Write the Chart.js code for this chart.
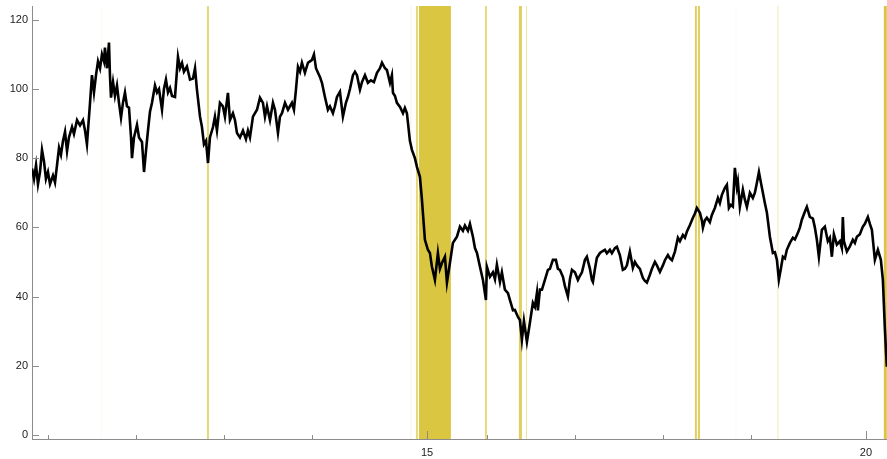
<!DOCTYPE html>
<html>
<head>
<meta charset="utf-8">
<script src="https://cdn.jsdelivr.net/npm/chart.js@4"></script>
<style>
  html, body { margin: 0; padding: 0; background: #fff; }
  #wrap { width: 887px; height: 459px; }
</style>
</head>
<body>
<div id="wrap"><canvas id="priceChart" width="887" height="459"></canvas></div>
<script>
// time in years (two-digit year + fraction) and the price at each sample
const t = [
  10.500, 10.523, 10.546, 10.568, 10.591, 10.614, 10.637, 10.659, 10.682, 10.705,
  10.739, 10.762, 10.785, 10.808, 10.830, 10.853, 10.876, 10.899, 10.921, 10.956,
  10.978, 11.013, 11.047, 11.081, 11.104, 11.126, 11.161, 11.183, 11.206, 11.229,
  11.252, 11.275, 11.297, 11.320, 11.331, 11.354, 11.377, 11.388, 11.400, 11.423,
  11.445, 11.468, 11.491, 11.514, 11.536, 11.559, 11.582, 11.605, 11.628, 11.639,
  11.662, 11.696, 11.719, 11.753, 11.776, 11.798, 11.821, 11.844, 11.867, 11.901,
  11.924, 11.947, 11.981, 12.003, 12.026, 12.049, 12.072, 12.095, 12.129, 12.163,
  12.186, 12.209, 12.231, 12.265, 12.300, 12.334, 12.357, 12.379, 12.414, 12.436,
  12.459, 12.482, 12.505, 12.527, 12.562, 12.584, 12.607, 12.641, 12.675, 12.698,
  12.732, 12.755, 12.789, 12.812, 12.835, 12.869, 12.903, 12.937, 12.960, 12.983,
  13.017, 13.063, 13.097, 13.131, 13.154, 13.177, 13.211, 13.245, 13.268, 13.302,
  13.325, 13.348, 13.382, 13.416, 13.461, 13.484, 13.507, 13.530, 13.553, 13.575,
  13.609, 13.644, 13.666, 13.689, 13.712, 13.735, 13.758, 13.780, 13.803, 13.837,
  13.871, 13.894, 13.928, 13.951, 13.974, 14.008, 14.042, 14.076, 14.099, 14.122,
  14.156, 14.179, 14.202, 14.236, 14.259, 14.293, 14.327, 14.361, 14.395, 14.430,
  14.464, 14.487, 14.521, 14.543, 14.578, 14.600, 14.612, 14.635, 14.657, 14.692,
  14.726, 14.748, 14.771, 14.783, 14.805, 14.828, 14.862, 14.885, 14.919, 14.942,
  14.976, 15.010, 15.033, 15.056, 15.090, 15.124, 15.147, 15.170, 15.204, 15.227,
  15.261, 15.295, 15.318, 15.341, 15.375, 15.409, 15.432, 15.466, 15.489, 15.523,
  15.546, 15.569, 15.603, 15.637, 15.671, 15.682, 15.717, 15.751, 15.774, 15.796,
  15.831, 15.853, 15.887, 15.922, 15.944, 15.979, 16.001, 16.036, 16.058, 16.081,
  16.104, 16.138, 16.172, 16.206, 16.229, 16.252, 16.263, 16.286, 16.309, 16.343,
  16.377, 16.400, 16.434, 16.468, 16.491, 16.514, 16.548, 16.571, 16.605, 16.628,
  16.651, 16.685, 16.719, 16.742, 16.765, 16.799, 16.821, 16.856, 16.878, 16.890,
  16.913, 16.935, 16.970, 16.992, 17.026, 17.049, 17.083, 17.106, 17.140, 17.163,
  17.197, 17.231, 17.254, 17.277, 17.311, 17.345, 17.368, 17.391, 17.425, 17.459,
  17.482, 17.505, 17.539, 17.562, 17.596, 17.619, 17.653, 17.687, 17.710, 17.744,
  17.767, 17.790, 17.824, 17.858, 17.881, 17.915, 17.938, 17.960, 17.995, 18.029,
  18.052, 18.074, 18.109, 18.131, 18.143, 18.165, 18.188, 18.222, 18.245, 18.279,
  18.314, 18.336, 18.359, 18.393, 18.416, 18.439, 18.461, 18.484, 18.507, 18.530,
  18.541, 18.564, 18.598, 18.621, 18.644, 18.678, 18.712, 18.735, 18.758, 18.781,
  18.803, 18.826, 18.849, 18.872, 18.906, 18.940, 18.963, 18.986, 19.008, 19.031,
  19.054, 19.077, 19.099, 19.134, 19.168, 19.191, 19.225, 19.248, 19.270, 19.304,
  19.327, 19.361, 19.396, 19.418, 19.441, 19.464, 19.498, 19.532, 19.566, 19.589,
  19.612, 19.635, 19.669, 19.703, 19.726, 19.737, 19.749, 19.783, 19.817, 19.851,
  19.874, 19.897, 19.931, 19.965, 19.988, 20.022, 20.045, 20.068, 20.102, 20.136,
  20.170, 20.193, 20.204, 20.215, 20.227, 20.238
];

const price = [
  77, 74, 78, 72.5, 76, 82.4, 79, 74, 76, 72.5,
  75, 73, 78, 83, 81, 85, 87.6, 82, 86, 89,
  87, 91, 89.5, 91, 88, 84, 96, 104, 99, 104,
  108, 106, 110, 108, 112, 106, 113.4, 104, 97.5, 102,
  98, 101, 96, 91.7, 96, 99, 95, 94.6, 86, 80,
  86, 89.6, 86, 84.7, 76, 82, 88, 93.4, 96, 101,
  99, 100, 94, 100, 102.7, 99, 100.3, 98, 97.7, 109.3,
  106, 107.5, 105, 106.5, 102.7, 103, 106, 99.8, 92, 89,
  84, 85, 78.6, 86, 89, 92, 88, 96, 95, 92,
  98.9, 91, 93, 91, 87.3, 86, 88, 85.5, 88, 86,
  92, 94, 97.5, 96, 92, 95, 91, 96, 94, 87.3,
  92, 93, 96, 94, 96, 94, 99.8, 106.4, 105, 107.6,
  104.7, 107.6, 108, 108.4, 110, 106, 104.7, 103.5, 101.8, 97.7,
  94, 95, 93, 95, 97.7, 99.2, 92, 96, 97.7, 100,
  104, 105, 104, 99.8, 102, 104, 101.8, 102.5, 102, 104.7,
  106, 107.6, 106, 105.5, 101.8, 104, 98.9, 98, 96, 94.8,
  93, 94.5, 93, 90.2, 85, 82.4, 80, 77.5, 74.6, 68,
  56.4, 53.5, 52.6, 48.6, 44.8, 52.6, 48, 49.7, 51.5, 44,
  49.7, 55.5, 56.4, 57.3, 60.2, 59, 60.5, 59, 61, 57.3,
  54, 52.6, 48.6, 44.8, 39, 48.6, 45.7, 47, 45, 49.2,
  44.2, 47, 42, 41, 39, 36, 36.1, 34.1, 33.2, 27.5,
  33, 26.9, 32.4, 38.2, 37, 41, 36, 42, 42, 44.8,
  47.7, 48, 50.6, 50.6, 48, 47.7, 45.7, 43, 40, 45,
  47.7, 47, 44.8, 46, 47, 50.6, 51.5, 48, 44.8, 44.2,
  48, 51.2, 52.6, 53, 53.5, 52.5, 53.5, 52.5, 54, 54.4,
  52, 47.7, 48, 49, 53, 48.3, 50, 49, 48, 45.4,
  44.5, 44, 46.3, 48, 50, 49, 47.1, 49, 50.5, 52,
  51, 50.5, 53, 57, 56, 57.8, 57, 58.7, 60.7, 62.8,
  64, 65.6, 64.2, 62, 59.9, 62, 62.8, 61.5, 63.6, 65.6,
  68.5, 67, 69.4, 71.4, 72.3, 65.6, 66.5, 66, 77.2, 71.7,
  73.2, 65.9, 70.9, 68, 65.9, 70, 68.5, 70, 72.9, 76,
  73, 70, 67, 64.2, 57.3, 52.6, 52.8, 50.6, 44.8, 48,
  51.5, 51, 53.5, 55.5, 57, 56.5, 58.4, 60, 62.2, 64.5,
  65.9, 63, 62.5, 60, 56.4, 51.5, 59.3, 60.2, 56, 57,
  51.5, 58, 55, 56, 54, 63, 56, 53, 54.5, 56.4,
  55.5, 57.3, 58, 60.2, 61, 63, 61, 59.3, 50.6, 53.5,
  50.6, 44.8, 38, 31.2, 25, 19.7
];

// shaded periods: start, end (years) and how strongly each is marked
const bandStart = [11.286, 12.493, 14.811, 14.874, 14.908, 15.660, 16.047, 16.127, 18.052, 18.086, 18.513, 18.986, 20.204];
const bandEnd   = [11.297, 12.516, 14.822, 14.896, 15.272, 15.682, 16.081, 16.138, 18.074, 18.109, 18.524, 19.008, 20.238];
const bandWeight = [0.08, 0.7, 0.2, 0.7, 1, 0.7, 0.85, 0.5, 0.85, 0.85, 0.08, 0.2, 1];

const yTicks = [0, 20, 40, 60, 80, 100, 120];
const xMajor = [15, 20];
const xMinor = [10.686, 11.686, 12.686, 13.686, 15.686, 16.686, 17.686, 18.686];

const axisColor = '#8c8c8c';

const bandsPlugin = {
  id: 'bands',
  beforeDatasetsDraw(chart) {
    const { ctx, chartArea, scales } = chart;
    ctx.save();
    ctx.beginPath();
    ctx.rect(chartArea.left, chartArea.top, chartArea.width, chartArea.height);
    ctx.clip();
    bandStart.forEach((s, i) => {
      const x0 = scales.x.getPixelForValue(s);
      const x1 = scales.x.getPixelForValue(bandEnd[i]);
      ctx.fillStyle = `rgba(219, 198, 66, ${bandWeight[i]})`;
      ctx.fillRect(x0, chartArea.top, Math.max(x1 - x0, 1), chartArea.height);
    });
    ctx.restore();
  }
};

// tick marks point into the plot
const inwardTicks = {
  id: 'inwardTicks',
  afterDraw(chart) {
    const { ctx, chartArea, scales } = chart;
    ctx.save();
    ctx.strokeStyle = axisColor;
    ctx.lineWidth = 1;
    ctx.beginPath();
    yTicks.forEach(v => {
      const y = Math.round(scales.y.getPixelForValue(v)) + 0.5;
      ctx.moveTo(chartArea.left, y);
      ctx.lineTo(chartArea.left + 7, y);
    });
    xMajor.forEach(v => {
      const x = Math.round(scales.x.getPixelForValue(v)) + 0.5;
      ctx.moveTo(x, chartArea.bottom);
      ctx.lineTo(x, chartArea.bottom - 8);
    });
    xMinor.forEach(v => {
      const x = Math.round(scales.x.getPixelForValue(v)) + 0.5;
      ctx.moveTo(x, chartArea.bottom);
      ctx.lineTo(x, chartArea.bottom - 4);
    });
    ctx.stroke();
    ctx.restore();
  }
};

const ctx = document.getElementById('priceChart').getContext('2d');
new Chart(ctx, {
  type: 'line',
  data: {
    datasets: [{
      data: t.map((x, i) => ({ x: x, y: price[i] })),
      borderColor: '#000',
      borderWidth: 2.6,
      pointRadius: 0,
      tension: 0,
      fill: false
    }]
  },
  options: {
    responsive: false,
    animation: false,
    layout: { padding: { top: 6, right: 0, left: 0, bottom: 0 } },
    plugins: {
      legend: { display: false },
      tooltip: { enabled: false }
    },
    scales: {
      x: {
        type: 'linear',
        min: 10.5,
        max: 20.24,
        afterBuildTicks: s => { s.ticks = xMajor.map(v => ({ value: v })); },
        afterFit: s => { s.height = 20; s.paddingLeft = 0; s.paddingRight = 0; },
        grid: { display: false, drawTicks: false },
        border: { display: true, color: axisColor, width: 1 },
        ticks: {
          padding: 7,
          maxRotation: 0,
          color: '#222',
          font: { family: 'Liberation Sans', size: 11 },
          callback: v => String(v)
        }
      },
      y: {
        min: -1.2,
        max: 124,
        afterBuildTicks: s => { s.ticks = yTicks.map(v => ({ value: v })); },
        afterFit: s => { s.width = 32; s.paddingTop = 0; s.paddingBottom = 0; },
        grid: { display: false, drawTicks: false },
        border: { display: true, color: axisColor, width: 1 },
        ticks: {
          padding: 4,
          color: '#222',
          font: { family: 'Liberation Sans', size: 11 },
          callback: v => String(v)
        }
      }
    }
  },
  plugins: [bandsPlugin, inwardTicks]
});
</script>
</body>
</html>
